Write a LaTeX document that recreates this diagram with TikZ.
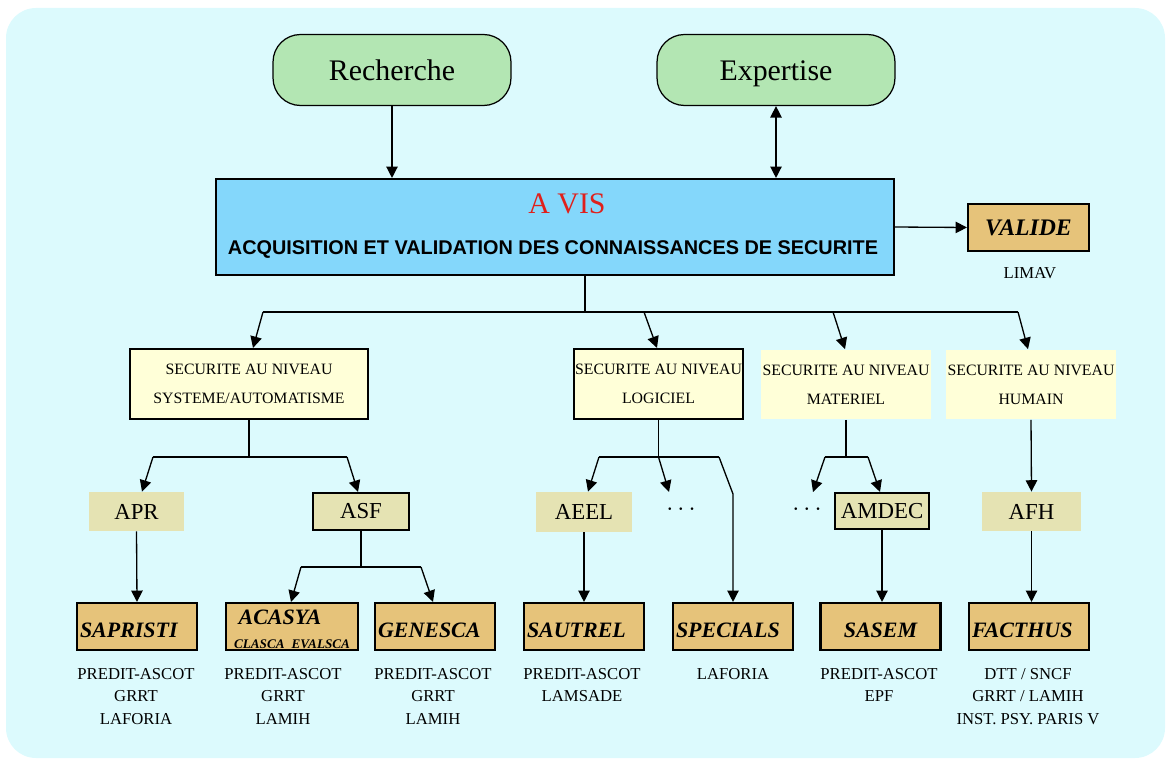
\documentclass[tikz,border=0pt]{standalone}
\usepackage{fontspec}
\setmainfont{Liberation Serif}
\newfontfamily\headfont{Liberation Sans}
\usetikzlibrary{arrows.meta,calc}

\definecolor{bgcyan}{HTML}{DCFAFD}
\definecolor{srcgreen}{HTML}{B3E6B3}
\definecolor{avisblue}{HTML}{84D7FB}
\definecolor{avisred}{HTML}{E0201B}
\definecolor{lvlyellow}{HTML}{FFFFD8}
\definecolor{mthkhaki}{HTML}{E5E3B3}
\definecolor{toolorange}{HTML}{E6C37A}

\begin{document}
\begin{tikzpicture}[x=0.02cm, y=-0.02cm, inner sep=0pt,
    link/.style={line width=0.75pt},
    arr/.style={link, -{Triangle[length=6.5pt, width=6.5pt]}},
    source/.style={draw, line width=0.7pt, fill=srcgreen, rounded corners=0.55cm,
        minimum width=4.76cm, minimum height=1.42cm, text height=12.4pt, text depth=0pt,
        font=\fontsize{17}{20}\selectfont},
    framed/.style={draw, line width=1.2pt},
    lowtext/.style={execute at begin node={\rule{0pt}{#1}}},
    level/.style={lowtext=0.45cm, fill=lvlyellow, minimum width=3.4cm, minimum height=1.4cm, align=center,
        font=\fontsize{9}{16.4}\selectfont},
    method/.style={fill=mthkhaki, minimum width=1.92cm, minimum height=0.78cm,
        font=\fontsize{13}{15}\selectfont},
    tool/.style={framed, fill=toolorange, minimum height=0.94cm, text width=2.28cm,
        inner xsep=0.06cm, align=left, font=\fontsize{12.5}{14}\selectfont\bfseries\itshape},
    lab/.style={anchor=north, align=center, font=\fontsize{9.5}{12.8}\selectfont}]

    \useasboundingbox (0,0) rectangle (1169,763);
    \fill[bgcyan, rounded corners=0.6cm] (6,8) rectangle (1165,758);

    % sources and main box
    \node[source] (rech) at (392,70) {Recherche\hspace{0.32cm}};
    \node[source] (expe) at (776,70) {Expertise\hspace{0.16cm}};
    \node[framed, fill=avisblue, minimum width=13.56cm, minimum height=1.92cm] (avis) at (555,227) {};
    \node[text=avisred, font=\fontsize{17}{20}\selectfont] (avist) at (567,204) {A VIS};
    \node[font=\headfont\fontsize{11.3}{13}\selectfont\bfseries] (aviss) at (553,250)
        {ACQUISITION ET VALIDATION DES CONNAISSANCES DE SECURITE};
    \node[tool, text width=2.3cm, align=center, font=\fontsize{13.5}{15}\selectfont\bfseries\itshape]
        (valide) at (1028.5,227.5) {VALIDE};
    \node[lab] (limav) at (1030,267) {LIMAV};

    % levels
    \node[level, framed, minimum width=4.76cm] (sys) at (249,384) {SECURITE AU NIVEAU\\SYSTEME/AUTOMATISME};
    \node[level, framed, minimum width=3.38cm] (logi) at (658.5,384) {SECURITE AU NIVEAU\\LOGICIEL};
    \node[level] (mate) at (846,384.5) {SECURITE AU NIVEAU\\MATERIEL};
    \node[level] (huma) at (1031,384.5) {SECURITE AU NIVEAU\\HUMAIN};

    % methods
    \node[method] (apr) at (136.5,511.5) {APR};
    \node[method, framed, minimum height=0.74cm] (asf) at (361,511.5) {ASF};
    \node[method, minimum height=0.8cm] (aeel) at (584,512) {AEEL};
    \node[font=\fontsize{14}{16}\selectfont] (dotsa) at (681,510) {$\cdots$};
    \node[font=\fontsize{14}{16}\selectfont] (dotsb) at (807,510) {$\cdots$};
    \node[method, framed, minimum width=1.88cm, minimum height=0.72cm] (amdec) at (882,511) {AMDEC};
    \node[method, minimum width=1.98cm] (afh) at (1031.5,511.5) {AFH};

    % tools
    \foreach \n/\x/\t in {sap/137/SAPRISTI, gene/435/GENESCA, saut/584/SAUTREL, spec/733/SPECIALS, fact/1029/FACTHUS}
        \node[tool, lowtext=0.43cm] (\n) at (\x,626.5) {\t};
    \node[tool, lowtext=0.41cm, text width=2.52cm, align=center] (acas) at (292,626.5)
        {\hspace*{-1.1em}ACASYA\\{\fontsize{7.5}{8}\selectfont CLASCA\hspace{4pt}EVALSCA}};
    \node[tool, lowtext=0.43cm, align=center] (sasem) at (880.5,626.5) {SASEM};

    \foreach \n/\x/\t in {sap/136/{PREDIT-ASCOT\\GRRT\\LAFORIA}, acas/283/{PREDIT-ASCOT\\GRRT\\LAMIH},
        gene/433/{PREDIT-ASCOT\\GRRT\\LAMIH}, saut/582/{PREDIT-ASCOT\\LAMSADE}, spec/733/{LAFORIA},
        sasem/879/{PREDIT-ASCOT\\EPF}, fact/1028/{DTT / SNCF\\GRRT / LAMIH\\INST. PSY. PARIS V}}
        \node[lab] (\n lab) at (\x,668) {\t};

    % junctions
    \coordinate (j0) at (585,312);
    \coordinate (j1) at (263,312);
    \coordinate (j2) at (644,312);
    \coordinate (j3) at (833,312);
    \coordinate (j4) at (1018,312);
    \coordinate (s1) at (153,457);
    \coordinate (s2) at (347,457);
    \coordinate (l1) at (599,457);
    \coordinate (l2) at (719,457);
    \coordinate (lb) at (733,494);
    \coordinate (ld) at (669,492);
    \coordinate (m1) at (825,457);
    \coordinate (m2) at (868,457);
    \coordinate (md) at (813,492);
    \coordinate (a1) at (301,567);
    \coordinate (a2) at (421,567);

    % connectors
    \draw[arr] (rech.south) -- (rech.south |- avis.north);
    \draw[link, {Triangle[length=6.5pt, width=6.5pt]}-{Triangle[length=6.5pt, width=6.5pt]}]
        (expe.south) -- (expe.south |- avis.north);
    \draw[arr] (avis.east) -- (valide.west);

    \draw[link] (avis.south -| j0) -- (j0);
    \draw[link] (j1) -- (j4);
    \foreach \j/\b/\d in {j1/sys/4, j2/logi/-1.5, j3/mate/-1, j4/huma/-3}
        \draw[arr] (\j) -- ($(\b.north)+(\d,0)$);

    \draw[link] (sys.south) -- (sys.south |- s1);
    \draw[link] (s1) -- (s2);
    \draw[arr] (s1) -- ($(apr.north)+(5.5,0)$);
    \draw[arr] (s2) -- ($(asf.north)+(-3,0)$);

    \draw[link] (logi.south) -- (logi.south |- l1);
    \draw[link] (l1) -- (l2);
    \draw[arr] (l1) -- ($(aeel.north)+(4,0)$);
    \draw[arr] (logi.south |- l1) -- (ld);
    \draw[arr] (l2) -- (lb) -- (spec.north);

    \draw[link] (mate.south) -- (mate.south |- m1);
    \draw[link] (m1) -- (m2);
    \draw[arr] (m1) -- (md);
    \draw[arr] (m2) -- ($(amdec.north)+(-2,0)$);

    \draw[arr] (huma.south) -- (afh.north);

    \draw[arr] (apr.south) -- (sap.north);
    \draw[link] (asf.south) -- (asf.south |- a1);
    \draw[link] (a1) -- (a2);
    \draw[arr] (a1) -- ($(acas.north)+(-1,0)$);
    \draw[arr] (a2) -- ($(gene.north)+(-2,0)$);
    \draw[arr] (aeel.south) -- (saut.north);
    \draw[arr] (amdec.south) -- (amdec.south |- sasem.north);
    \draw[arr] (afh.south) -- (afh.south |- fact.north);
\end{tikzpicture}
\end{document}
